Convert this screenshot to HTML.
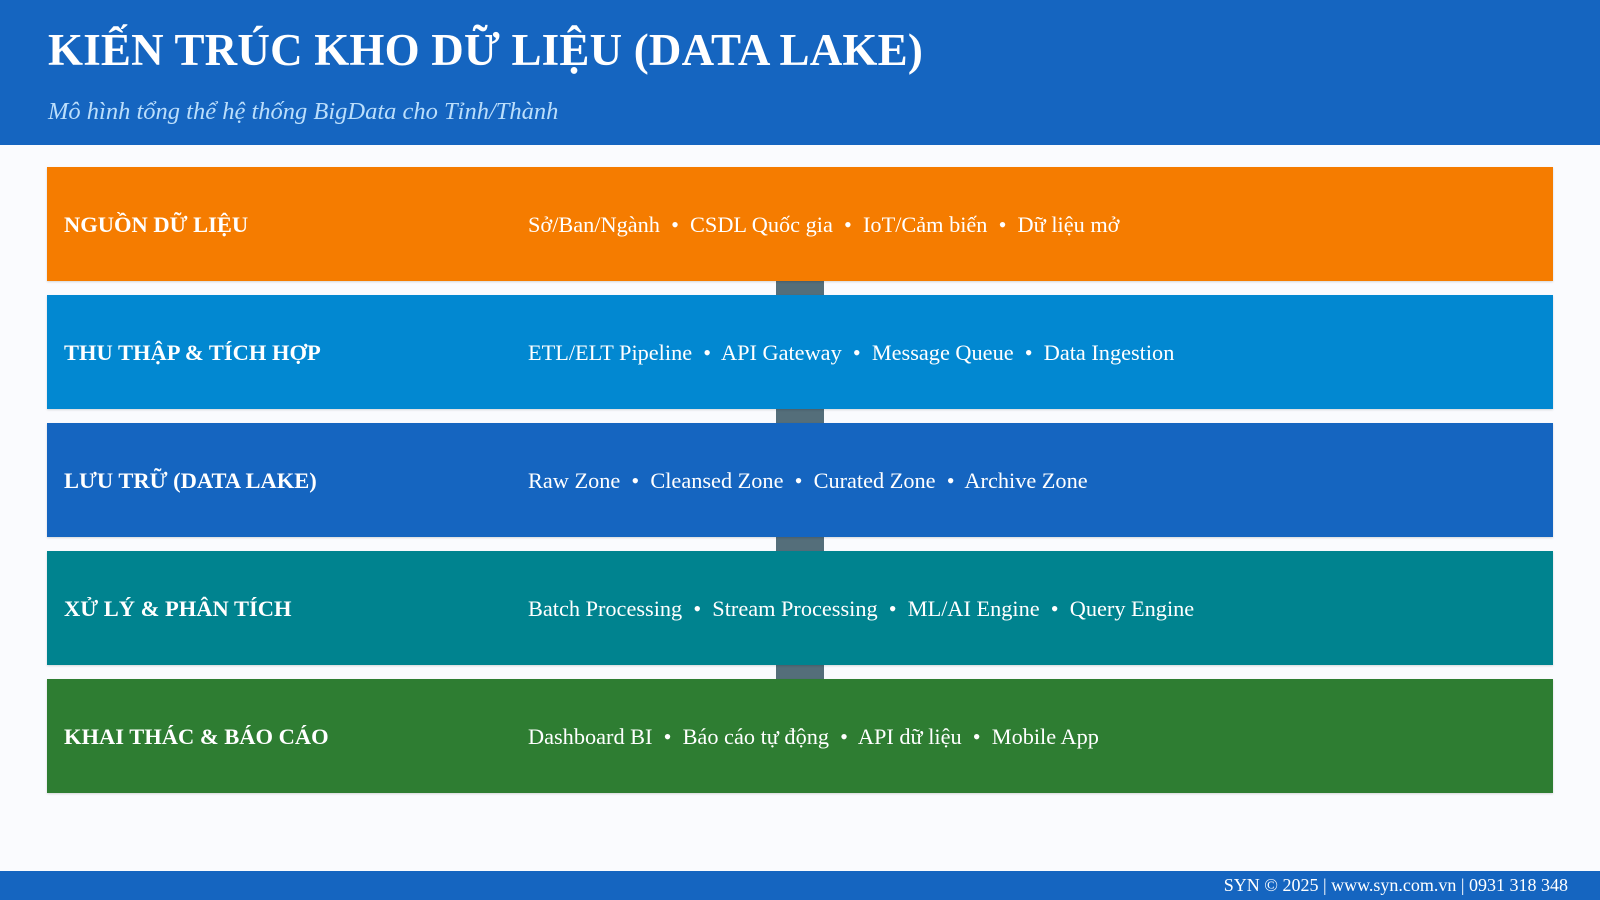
<!DOCTYPE html>
<html><head><meta charset="utf-8"><style>
*{margin:0;padding:0;box-sizing:border-box}
body{width:1600px;height:900px;background:#fafbfe;font-family:"Liberation Serif",serif;position:relative;overflow:hidden}
.hdr{position:absolute;left:0;top:0;width:1600px;height:145px;background:#1565c0}
.t{position:absolute;left:48px;top:24px;color:#fff;font-weight:bold;font-size:45px;letter-spacing:0.2px;white-space:nowrap}
.s{position:absolute;left:48px;top:98px;color:#bbdefb;font-style:italic;font-size:24.5px;white-space:nowrap}
.bar{position:absolute;left:47px;width:1506px;height:114px;color:#fff;box-shadow:0 1px 2px rgba(0,0,0,.15)}
.bar .l{position:absolute;left:17px;top:1px;line-height:114px;font-weight:bold;font-size:22.5px;white-space:nowrap}
.bar .r{position:absolute;left:481px;top:1px;line-height:114px;font-size:22.3px;white-space:nowrap}
.c{position:absolute;left:776px;width:48px;height:14px;background:#546e7a}
.f{position:absolute;left:0;top:871px;width:1600px;height:29px;background:#1565c0;color:#fff;font-size:18px;text-align:right;padding-right:32px;line-height:29px}
</style></head><body>
<div class="hdr"><div class="t">KIẾN TRÚC KHO DỮ LIỆU (DATA LAKE)</div><div class="s">Mô hình tổng thể hệ thống BigData cho Tỉnh/Thành</div></div>
<div class="c" style="top:281px"></div>
<div class="c" style="top:409px"></div>
<div class="c" style="top:537px"></div>
<div class="c" style="top:665px"></div>
<div class="bar" style="top:167px;background:#f57c00"><div class="l">NGUỒN DỮ LIỆU</div><div class="r">Sở/Ban/Ngành &nbsp;•&nbsp; CSDL Quốc gia &nbsp;•&nbsp; IoT/Cảm biến &nbsp;•&nbsp; Dữ liệu mở</div></div>
<div class="bar" style="top:295px;background:#0288d1"><div class="l">THU THẬP &amp; TÍCH HỢP</div><div class="r">ETL/ELT Pipeline &nbsp;•&nbsp; API Gateway &nbsp;•&nbsp; Message Queue &nbsp;•&nbsp; Data Ingestion</div></div>
<div class="bar" style="top:423px;background:#1565c0"><div class="l">LƯU TRỮ (DATA LAKE)</div><div class="r">Raw Zone &nbsp;•&nbsp; Cleansed Zone &nbsp;•&nbsp; Curated Zone &nbsp;•&nbsp; Archive Zone</div></div>
<div class="bar" style="top:551px;background:#00838f"><div class="l">XỬ LÝ &amp; PHÂN TÍCH</div><div class="r">Batch Processing &nbsp;•&nbsp; Stream Processing &nbsp;•&nbsp; ML/AI Engine &nbsp;•&nbsp; Query Engine</div></div>
<div class="bar" style="top:679px;background:#2e7d32"><div class="l">KHAI THÁC &amp; BÁO CÁO</div><div class="r">Dashboard BI &nbsp;•&nbsp; Báo cáo tự động &nbsp;•&nbsp; API dữ liệu &nbsp;•&nbsp; Mobile App</div></div>
<div class="f">SYN © 2025 | www.syn.com.vn | 0931 318 348</div>
</body></html>
